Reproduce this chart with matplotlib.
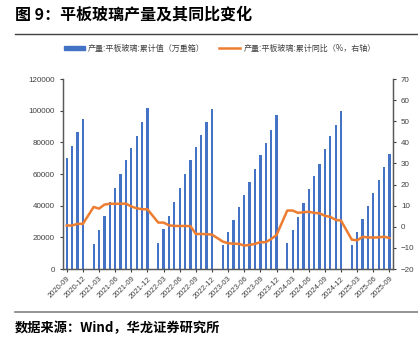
import numpy as np
import matplotlib
matplotlib.use('Agg')
import matplotlib.pyplot as plt
from matplotlib.lines import Line2D

plt.rcParams['font.family'] = ['Liberation Sans', 'Noto Sans CJK SC', 'DejaVu Sans']

# monthly, 2020-09 .. 2025-09 (January has no cumulative value)
months = []
for y in range(2020, 2026):
    for m in range(1, 13):
        if (y == 2020 and m < 9) or (y == 2025 and m > 9):
            continue
        months.append(f'{y}-{m:02d}')

output_cum = [70000, 77800, 86300, 94700,
              None, 16000, 24700, 33500, 42200, 51000, 59900, 68700, 76300, 84100, 92800, 101500,
              None, 16700, 25100, 33700, 42600, 51200, 59900, 69000, 77200, 84800, 92800, 101000,
              None, 15200, 23200, 31000, 39200, 46800, 54800, 63000, 71900, 79700, 87700, 97000,
              None, 16200, 24700, 33100, 41500, 50600, 58800, 66600, 75900, 83900, 90900, 100000,
              None, 15200, 23400, 31800, 40100, 48300, 56500, 64700, 72800]
output_yoy = [0.6, 0.6, 1.4, 1.4,
              None, 9.4, 8.6, 10.5, 10.9, 10.9, 10.9, 11.0, 9.6, 8.8, 8.3, 8.3,
              None, 2.0, 2.0, 0.7, 0.4, 0.4, 0.4, 0.3, -3.4, -3.4, -3.5, -3.7,
              None, -7.0, -7.8, -8.0, -8.1, -8.9, -8.6, -8.1, -7.3, -7.3, -5.8, -3.9,
              None, 7.7, 7.7, 6.6, 6.9, 7.1, 6.6, 6.4, 5.2, 4.7, 3.3, 2.9,
              None, -6.1, -6.4, -4.8, -5.0, -5.1, -5.0, -4.7, -5.3]

x = np.arange(len(months))
bars = np.array([np.nan if v is None else v for v in output_cum], dtype=float)
yoy = np.array([np.nan if v is None else v for v in output_yoy], dtype=float)
ok = ~np.isnan(yoy)

fig = plt.figure(figsize=(4.18, 3.40), dpi=100)
ax = fig.add_axes([0.1514, 0.2088, 0.788, 0.5588])
ax2 = ax.twinx()

ax.bar(x, bars, width=0.42, color='#4472C4', zorder=2)
ax2.plot(x[ok], yoy[ok], color='#ED7D31', lw=1.8, zorder=3)

ax.set_xlim(-0.65, len(months) - 0.4)
ax.set_ylim(0, 120000)
ax.set_yticks(range(0, 120001, 20000))
ax2.set_ylim(-20, 70)
ax2.set_yticks(range(-20, 71, 10))

ticks = x[::3]
ax.set_xticks(ticks)
ax.set_xticklabels([months[i] for i in ticks], rotation=45, ha='right',
                   rotation_mode='anchor', fontsize=5.5, color='#595959')
ax.tick_params(axis='y', labelsize=5.8, colors='#404040', length=2.5, width=0.8)
ax.tick_params(axis='x', length=2.5, width=0.8, colors='#404040', pad=2)
ax2.tick_params(axis='y', labelsize=5.8, colors='#404040', length=2.5, width=0.8)

for a in (ax, ax2):
    a.spines['top'].set_visible(False)
    for s in ('left', 'right', 'bottom'):
        a.spines[s].set_color('#595959')
        a.spines[s].set_linewidth(0.9)

# legend
handles = [plt.Rectangle((0, 0), 1, 1, color='#4472C4'),
           Line2D([0], [0], color='#ED7D31', lw=1.8)]
labels = ['产量:平板玻璃:累计值（万重箱）', '产量:平板玻璃:累计同比（%，右轴）']
fig.legend(handles, labels, loc='center', bbox_to_anchor=(0.526, 0.858), ncol=2,
           frameon=False, handlelength=2.6, handleheight=0.5, handletextpad=0.4,
           columnspacing=1.8, labelcolor='#404040',
           prop={'family': ['Noto Sans CJK SC'], 'size': 5.8})

fig.text(0.036, 0.958, '图 9：平板玻璃产量及其同比变化', fontsize=11.5, fontweight='bold',
         family=['Noto Sans CJK SC'], va='center', ha='left')
fig.add_artist(Line2D([0.036, 1.0], [0.9, 0.9], color='#404040', lw=1.0))
fig.add_artist(Line2D([0.036, 1.0], [0.083, 0.083], color='#808080', lw=1.2))
fig.text(0.036, 0.035, '数据来源：Wind，华龙证券研究所', fontsize=9.5, fontweight='bold',
         family=['Noto Sans CJK SC'], va='center', ha='left')

fig.savefig('out.png', dpi=100)
